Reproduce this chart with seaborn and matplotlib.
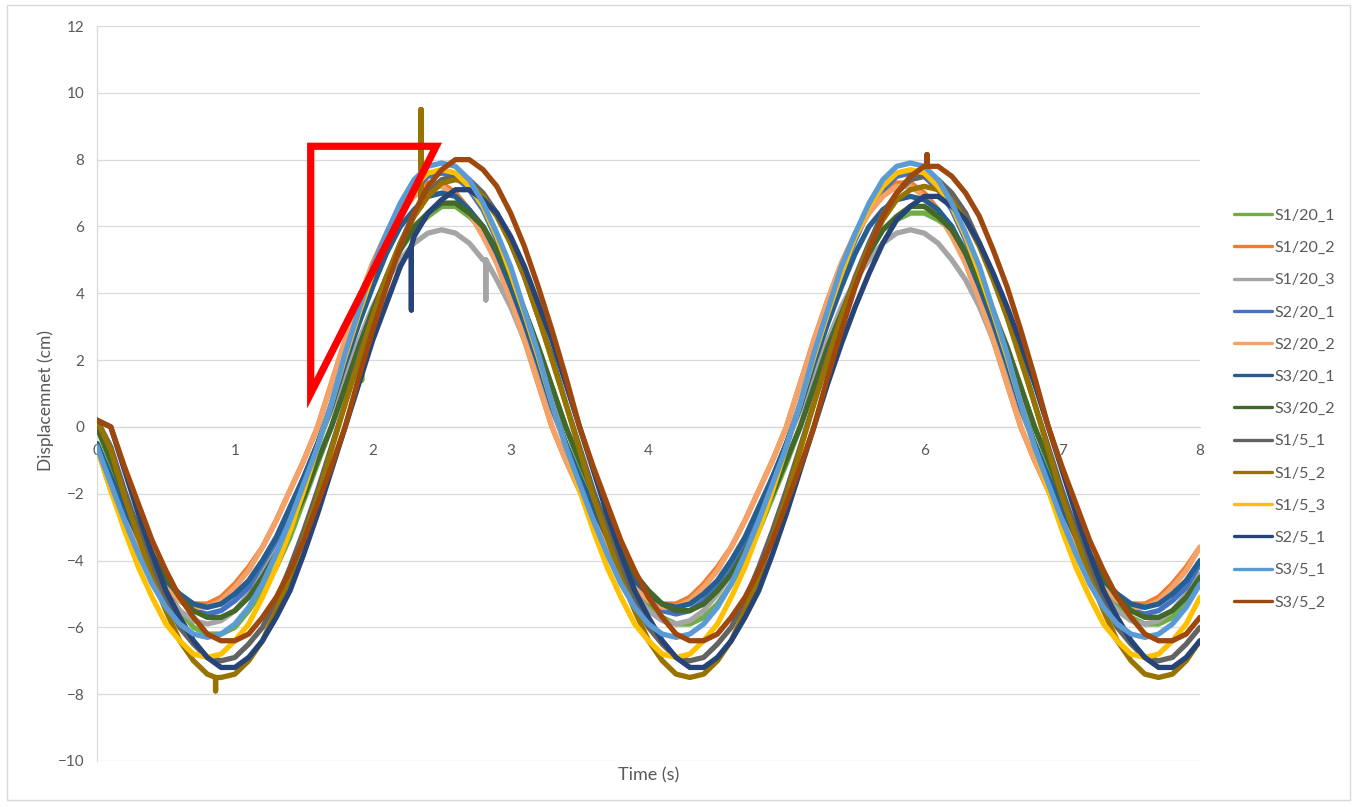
import numpy as np
import pandas as pd
import matplotlib
matplotlib.use("Agg")
import matplotlib.pyplot as plt
from matplotlib.patches import Polygon, Rectangle
import seaborn as sns

# Sample times (s), 0.1 s apart
time = np.round(np.arange(81) * 0.1, 1)

series_names = ["S1/20_1", "S1/20_2", "S1/20_3", "S2/20_1", "S2/20_2", "S3/20_1",
                "S3/20_2", "S1/5_1", "S1/5_2", "S1/5_3", "S2/5_1", "S3/5_1", "S3/5_2"]
series_colors = ["#70AD47", "#ED7D31", "#A5A5A5", "#4472C4", "#F4A268", "#255E91",
                 "#43682B", "#636363", "#997300", "#FFC000", "#264478", "#5B9BD5", "#9E480E"]

# Displacement (cm) per run
s1_20_1 = [0.0, -1.1, -2.2, -3.3, -4.2, -4.9, -5.5, -6.0, -6.2, -6.2, -6.0, -5.5, -4.9, -4.2, -3.3, -2.2, -1.1,
           0.0, 1.2, 2.4, 3.5, 4.4, 5.3, 5.9, 6.3, 6.6, 6.6, 6.3, 5.9, 5.3, 4.4, 3.5, 2.4, 1.2,
           0.0, -1.1, -2.1, -3.1, -4.0, -4.7, -5.3, -5.7, -5.9, -5.9, -5.7, -5.3, -4.7, -4.0, -3.1, -2.1, -1.1,
           0.0, 1.2, 2.4, 3.5, 4.4, 5.3, 5.9, 6.2, 6.4, 6.4, 6.2, 5.9, 5.3, 4.4, 3.5, 2.4, 1.2,
           0.0, -1.1, -2.1, -3.1, -4.0, -4.7, -5.3, -5.7, -5.9, -5.9, -5.7, -5.3, -4.7]
s1_20_2 = [-0.6, -1.9, -2.8, -3.6, -4.2, -4.7, -5.1, -5.3, -5.3, -5.1, -4.7, -4.2, -3.6, -2.8, -1.9, -1.0,
           0.0, 1.3, 2.6, 3.8, 4.9, 5.8, 6.5, 7.0, 7.3, 7.3, 7.0, 6.5, 5.8, 4.9, 3.8, 2.6, 1.3,
           0.0, -1.0, -1.9, -2.8, -3.6, -4.2, -4.7, -5.1, -5.3, -5.3, -5.1, -4.7, -4.2, -3.6, -2.8, -1.9, -1.0,
           0.0, 1.3, 2.6, 3.8, 4.9, 5.8, 6.5, 7.0, 7.3, 7.3, 7.0, 6.5, 5.8, 4.9, 3.8, 2.6, 1.3,
           0.0, -1.0, -1.9, -2.8, -3.6, -4.2, -4.7, -5.1, -5.3, -5.3, -5.1, -4.7, -4.2, -3.6]
s1_20_3 = [-0.5, -1.6, -2.6, -3.6, -4.4, -5.0, -5.5, -5.8, -5.9, -5.8, -5.5, -5.0, -4.4, -3.6, -2.6, -1.6, -0.5,
           0.5, 1.6, 2.6, 3.6, 4.4, 5.0, 5.5, 5.8, 5.9, 5.8, 5.5, 5.0, 4.4, 3.6, 2.6, 1.6, 0.5,
           -0.5, -1.6, -2.6, -3.6, -4.4, -5.0, -5.5, -5.8, -5.9, -5.8, -5.5, -5.0, -4.4, -3.6, -2.6, -1.6, -0.5,
           0.5, 1.6, 2.6, 3.6, 4.4, 5.0, 5.5, 5.8, 5.9, 5.8, 5.5, 5.0, 4.4, 3.6, 2.6, 1.6, 0.5,
           -0.5, -1.6, -2.6, -3.6, -4.4, -5.0, -5.5, -5.8, -5.9, -5.8, -5.5, -5.0, -4.4]
s2_20_1 = [-0.5, -1.5, -2.5, -3.4, -4.1, -4.8, -5.2, -5.5, -5.6, -5.5, -5.2, -4.8, -4.1, -3.4, -2.5, -1.5, -0.5,
           0.7, 2.1, 3.4, 4.6, 5.6, 6.5, 7.1, 7.5, 7.6, 7.5, 7.1, 6.5, 5.6, 4.6, 3.4, 2.1, 0.7,
           -0.5, -1.5, -2.5, -3.4, -4.1, -4.8, -5.2, -5.5, -5.6, -5.5, -5.2, -4.8, -4.1, -3.4, -2.5, -1.5, -0.5,
           0.7, 2.1, 3.4, 4.6, 5.6, 6.5, 7.1, 7.5, 7.6, 7.5, 7.1, 6.5, 5.6, 4.6, 3.4, 2.1, 0.7,
           -0.5, -1.5, -2.5, -3.4, -4.1, -4.8, -5.2, -5.5, -5.6, -5.5, -5.2, -4.8, -4.1]
s2_20_2 = [-0.6, -1.9, -2.8, -3.6, -4.3, -4.8, -5.2, -5.4, -5.4, -5.2, -4.8, -4.3, -3.6, -2.8, -1.9, -1.0,
           0.0, 1.3, 2.6, 3.8, 4.9, 5.7, 6.4, 6.9, 7.2, 7.2, 6.9, 6.4, 5.7, 4.9, 3.8, 2.6, 1.3,
           0.0, -1.0, -1.9, -2.8, -3.6, -4.3, -4.8, -5.2, -5.4, -5.4, -5.2, -4.8, -4.3, -3.6, -2.8, -1.9, -1.0,
           0.0, 1.3, 2.6, 3.8, 4.9, 5.7, 6.4, 6.9, 7.2, 7.2, 6.9, 6.4, 5.7, 4.9, 3.8, 2.6, 1.3,
           0.0, -1.0, -1.9, -2.8, -3.6, -4.3, -4.8, -5.2, -5.4, -5.4, -5.2, -4.8, -4.3, -3.6]
s3_20_1 = [-0.5, -1.5, -2.4, -3.3, -4.0, -4.6, -5.0, -5.3, -5.4, -5.3, -5.0, -4.6, -4.0, -3.3, -2.4, -1.5, -0.5,
           0.6, 1.9, 3.1, 4.2, 5.2, 6.0, 6.5, 6.9, 7.0, 6.9, 6.5, 6.0, 5.2, 4.2, 3.1, 1.9, 0.6,
           -0.5, -1.5, -2.4, -3.3, -4.0, -4.6, -5.0, -5.3, -5.4, -5.3, -5.0, -4.6, -4.0, -3.3, -2.4, -1.5, -0.5,
           0.6, 1.9, 3.1, 4.2, 5.2, 6.0, 6.5, 6.8, 6.9, 6.8, 6.5, 6.0, 5.2, 4.2, 3.1, 1.9, 0.6,
           -0.5, -1.5, -2.4, -3.3, -4.0, -4.6, -5.0, -5.3, -5.4, -5.3, -5.0, -4.6, -4.0]
s3_20_2 = [0.0, -1.0, -2.1, -3.0, -3.8, -4.5, -5.1, -5.5, -5.7, -5.7, -5.5, -5.1, -4.5, -3.8, -3.0, -2.1, -1.0,
           0.0, 1.2, 2.4, 3.5, 4.5, 5.3, 6.0, 6.4, 6.7, 6.7, 6.4, 6.0, 5.3, 4.5, 3.5, 2.4, 1.2,
           0.0, -1.0, -2.0, -2.9, -3.7, -4.4, -4.9, -5.3, -5.5, -5.5, -5.3, -4.9, -4.4, -3.7, -2.9, -2.0, -1.0,
           0.0, 1.2, 2.4, 3.4, 4.4, 5.2, 5.9, 6.3, 6.6, 6.6, 6.3, 5.9, 5.2, 4.4, 3.4, 2.4, 1.2,
           0.0, -1.0, -2.1, -3.0, -3.8, -4.5, -5.1, -5.5, -5.7, -5.7, -5.5, -5.1, -4.5]
s1_5_1 = [0.2,
          -0.6, -1.9, -3.1, -4.2, -5.2, -6.0, -6.5, -6.9, -7.0, -6.9, -6.5, -6.0, -5.2, -4.2, -3.1, -1.9, -0.6,
          0.7, 2.1, 3.3, 4.5, 5.5, 6.4, 7.0, 7.4, 7.5, 7.4, 7.0, 6.4, 5.5, 4.5, 3.3, 2.1, 0.7,
          -0.6, -1.9, -3.1, -4.2, -5.2, -6.0, -6.5, -6.9, -7.0, -6.9, -6.5, -6.0, -5.2, -4.2, -3.1, -1.9, -0.6,
          0.7, 2.1, 3.3, 4.5, 5.5, 6.4, 7.0, 7.4, 7.5, 7.4, 7.0, 6.4, 5.5, 4.5, 3.3, 2.1, 0.7,
          -0.6, -1.9, -3.1, -4.2, -5.2, -6.0, -6.5, -6.9, -7.0, -6.9, -6.5, -6.0]
s1_5_2 = [0.2,
          -0.7, -2.1, -3.3, -4.5, -5.5, -6.4, -7.0, -7.4, -7.5, -7.4, -7.0, -6.4, -5.5, -4.5, -3.3, -2.1, -0.7,
          0.7, 2.0, 3.3, 4.5, 5.5, 6.3, 6.9, 7.3, 7.4, 7.3, 6.9, 6.3, 5.5, 4.5, 3.3, 2.0, 0.7,
          -0.7, -2.1, -3.3, -4.5, -5.5, -6.4, -7.0, -7.4, -7.5, -7.4, -7.0, -6.4, -5.5, -4.5, -3.3, -2.1, -0.7,
          0.7, 2.0, 3.3, 4.4, 5.4, 6.2, 6.8, 7.1, 7.2, 7.1, 6.8, 6.2, 5.4, 4.4, 3.3, 2.0, 0.7,
          -0.7, -2.1, -3.3, -4.5, -5.5, -6.4, -7.0, -7.4, -7.5, -7.4, -7.0, -6.4]
s1_5_3 = [-0.6, -1.9, -3.1, -4.2, -5.1, -5.9, -6.4, -6.8, -6.9, -6.8, -6.4, -5.9, -5.1, -4.2, -3.1, -1.9, -0.6,
          0.7, 2.1, 3.4, 4.6, 5.7, 6.6, 7.2, 7.6, 7.7, 7.6, 7.2, 6.6, 5.7, 4.6, 3.4, 2.1, 0.7,
          -0.6, -1.9, -3.1, -4.2, -5.1, -5.9, -6.4, -6.8, -6.9, -6.8, -6.4, -5.9, -5.1, -4.2, -3.1, -1.9, -0.6,
          0.7, 2.1, 3.4, 4.6, 5.7, 6.6, 7.2, 7.6, 7.7, 7.6, 7.2, 6.6, 5.7, 4.6, 3.4, 2.1, 0.7,
          -0.6, -1.9, -3.1, -4.2, -5.1, -5.9, -6.4, -6.8, -6.9, -6.8, -6.4, -5.9, -5.1]
s2_5_1 = [0.2,
          0.0, -1.3, -2.6, -3.8, -4.9, -5.7, -6.4, -6.9, -7.2, -7.2, -6.9, -6.4, -5.7, -4.9, -3.8, -2.6, -1.3,
          0.0, 1.3, 2.6, 3.7, 4.8, 5.7, 6.4, 6.8, 7.1, 7.1, 6.8, 6.4, 5.7, 4.8, 3.7, 2.6, 1.3,
          0.0, -1.3, -2.6, -3.8, -4.9, -5.7, -6.4, -6.9, -7.2, -7.2, -6.9, -6.4, -5.7, -4.9, -3.8, -2.6, -1.3,
          0.0, 1.3, 2.5, 3.6, 4.6, 5.5, 6.2, 6.6, 6.9, 6.9, 6.6, 6.2, 5.5, 4.6, 3.6, 2.5, 1.3,
          0.0, -1.3, -2.6, -3.8, -4.9, -5.7, -6.4, -6.9, -7.2, -7.2, -6.9, -6.4]
s3_5_1 = [-0.6, -1.7, -2.8, -3.8, -4.7, -5.4, -5.9, -6.2, -6.3, -6.2, -5.9, -5.4, -4.7, -3.8, -2.8, -1.7, -0.6,
          0.7, 2.2, 3.5, 4.8, 5.8, 6.7, 7.4, 7.8, 7.9, 7.8, 7.4, 6.7, 5.8, 4.8, 3.5, 2.2, 0.7,
          -0.6, -1.7, -2.8, -3.8, -4.7, -5.4, -5.9, -6.2, -6.3, -6.2, -5.9, -5.4, -4.7, -3.8, -2.8, -1.7, -0.6,
          0.7, 2.2, 3.5, 4.8, 5.8, 6.7, 7.4, 7.8, 7.9, 7.8, 7.4, 6.7, 5.8, 4.8, 3.5, 2.2, 0.7,
          -0.6, -1.7, -2.8, -3.8, -4.7, -5.4, -5.9, -6.2, -6.3, -6.2, -5.9, -5.4, -4.7]
s3_5_2 = [0.2,
          0.0, -1.2, -2.3, -3.4, -4.3, -5.1, -5.7, -6.2, -6.4, -6.4, -6.2, -5.7, -5.1, -4.3, -3.4, -2.3, -1.2,
          0.0, 1.5, 2.9, 4.2, 5.4, 6.4, 7.2, 7.7, 8.0, 8.0, 7.7, 7.2, 6.4, 5.4, 4.2, 2.9, 1.5,
          0.0, -1.2, -2.3, -3.4, -4.3, -5.1, -5.7, -6.2, -6.4, -6.4, -6.2, -5.7, -5.1, -4.3, -3.4, -2.3, -1.2,
          0.0, 1.5, 2.9, 4.2, 5.3, 6.3, 7.0, 7.5, 7.8, 7.8, 7.5, 7.0, 6.3, 5.3, 4.2, 2.9, 1.5,
          0.0, -1.2, -2.3, -3.4, -4.3, -5.1, -5.7, -6.2, -6.4, -6.4, -6.2, -5.7]

series_values = [s1_20_1, s1_20_2, s1_20_3, s2_20_1, s2_20_2, s3_20_1, s3_20_2,
                 s1_5_1, s1_5_2, s1_5_3, s2_5_1, s3_5_1, s3_5_2]

# Single-sample glitches in the recordings
spike_series = ["S1/5_2", "S2/5_1", "S1/20_3", "S1/20_1", "S1/5_2", "S3/5_2"]
spike_time = [2.35, 2.28, 2.82, 1.92, 0.86, 6.02]
spike_from = [6.6, 5.4, 5.0, 2.4, -7.5, 7.8]
spike_to = [9.5, 3.5, 3.8, 1.4, -7.9, 8.15]

# Highlight triangle (time, displacement)
tri_time = [1.55, 2.46, 1.55]
tri_disp = [8.4, 8.4, 1.0]

rows = []
for name, vals in zip(series_names, series_values):
    assert len(vals) == len(time), (name, len(vals))
    pts = list(zip(time, vals))
    for s, t, a, b in zip(spike_series, spike_time, spike_from, spike_to):
        if s == name:
            pts += [(t, a), (t, b), (t, a)]
    pts.sort(key=lambda p: p[0])
    rows += [(name, t, v) for t, v in pts]
df = pd.DataFrame(rows, columns=["Series", "Time", "Displacement"])

sns.set_theme(style="white")
plt.rcParams["font.family"] = ["Lato", "DejaVu Sans"]

fig = plt.figure(figsize=(13.59, 8.07), dpi=100)
ax = fig.add_axes([97 / 1359, 1 - 761 / 807, 1103 / 1359, 735 / 807])

sns.lineplot(data=df, x="Time", y="Displacement", hue="Series", hue_order=series_names,
             palette=dict(zip(series_names, series_colors)), sort=False, estimator=None,
             linewidth=3.8, ax=ax)

ax.set_xlim(0, 8)
ax.set_ylim(-10, 12)
ax.set_xticks(range(0, 9))
ax.set_yticks(range(-10, 13, 2))
ax.grid(axis="y", color="#D9D9D9", linewidth=0.9)
ax.grid(axis="x", visible=False)
ax.set_axisbelow(True)
for side in ("top", "right"):
    ax.spines[side].set_visible(False)
ax.spines["left"].set_color("#D9D9D9")
ax.spines["left"].set_linewidth(0.9)
ax.spines["bottom"].set_position(("data", 0))
ax.spines["bottom"].set_color("#D9D9D9")
ax.spines["bottom"].set_linewidth(0.9)
for sp in ax.spines.values():
    sp.set_zorder(1)
ax.tick_params(axis="both", length=0, labelsize=11, labelcolor="#595959")
ax.tick_params(axis="x", pad=12)
ax.tick_params(axis="y", pad=9)

ax.set_xlabel("Time (s)", fontsize=13, color="#595959")
ax.xaxis.set_label_coords(0.5, -0.009)
ax.set_ylabel("Displacemnet (cm)", fontsize=12.5, color="#595959")
ax.yaxis.set_label_coords(-0.039, 0.49)

ax.add_patch(Polygon(np.column_stack([tri_time, tri_disp]), closed=True, fill=False,
                     edgecolor="#FF0000", linewidth=5.2, joinstyle="miter", zorder=5))

handles, labels = ax.get_legend_handles_labels()
leg = ax.legend(handles, labels, loc="center left", bbox_to_anchor=(1226 / 1359, 1 - 409 / 807),
                bbox_transform=fig.transFigure, frameon=False, fontsize=11.5, borderpad=0,
                handlelength=2.4, handletextpad=0.15, labelspacing=1.13, labelcolor="#595959")
for line in leg.get_lines():
    line.set_linewidth(2.4)

fig.add_artist(Rectangle((7 / 1359, 1 - 800 / 807), 1343 / 1359, 795 / 807,
                         transform=fig.transFigure, fill=False, edgecolor="#D9D9D9", linewidth=1))

fig.savefig("out.png", dpi=100)
